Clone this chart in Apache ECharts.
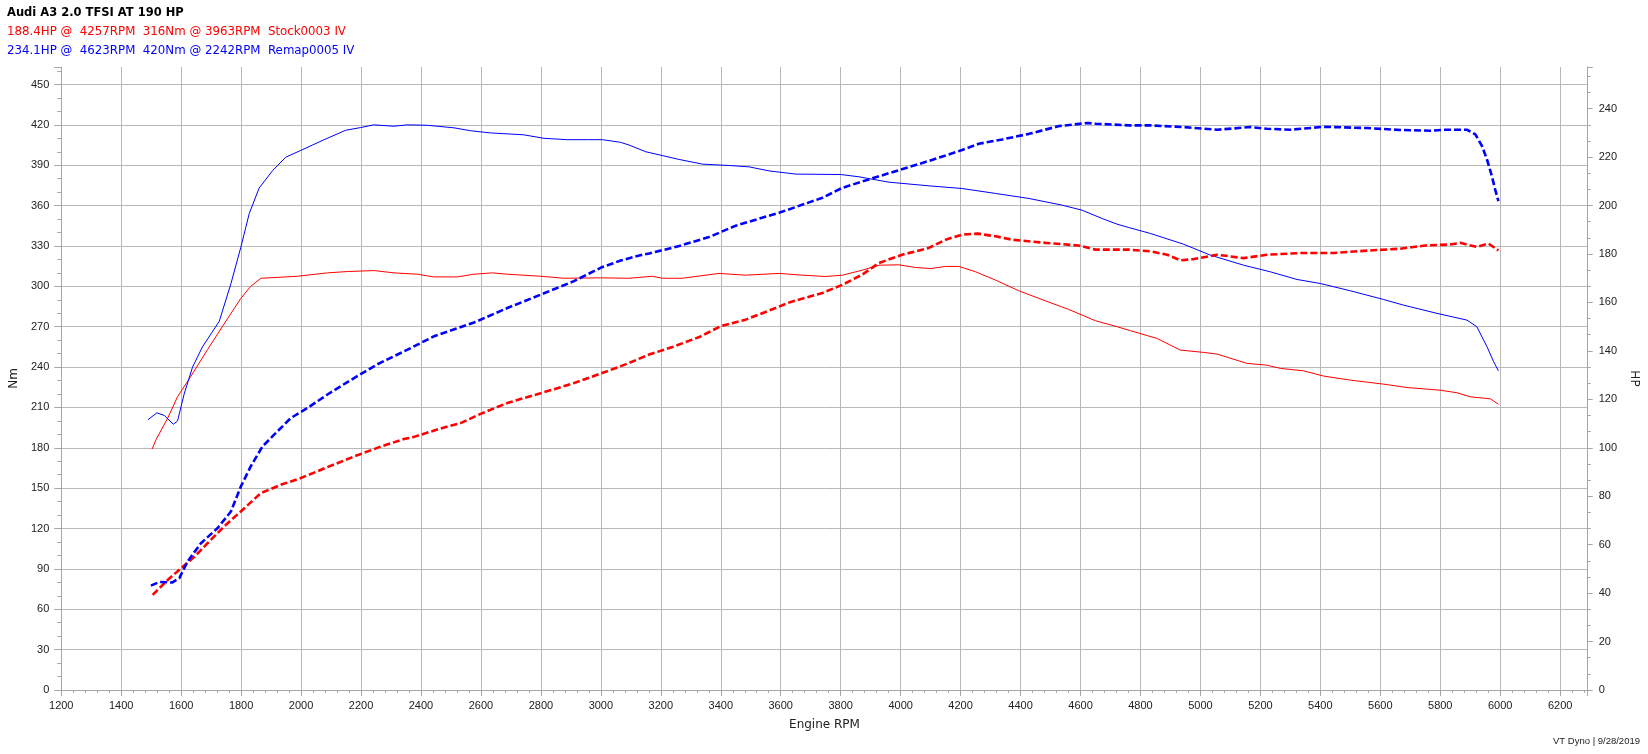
<!DOCTYPE html>
<html><head><meta charset="utf-8">
<script src="https://cdn.jsdelivr.net/npm/echarts@6/dist/echarts.min.js"></script>
<style>html,body{margin:0;padding:0;background:#fff}#c{width:1648px;height:754px}</style>
</head><body><div id="c"></div>
<script>
const titleText = 'Audi A3 2.0 TFSI AT 190 HP';
const stockLabel = '188.4HP @  4257RPM  316Nm @ 3963RPM  Stock0003 IV';
const remapLabel = '234.1HP @  4623RPM  420Nm @ 2242RPM  Remap0005 IV';
const footerText = 'VT Dyno | 9/28/2019';
const xAxisName = 'Engine RPM';
const leftAxisName = 'Nm';
const rightAxisName = 'HP';

const stockTorqueRpm = [1503,1516,1555,1588,1632,1688,1743,1799,1832,1866,1910,1988,2088,2155,2244,2310,2388,2443,2521,2577,2638,2688,2799,2877,2999,3094,3172,3205,3272,3394,3483,3594,3672,3750,3806,3872,3928,3994,4050,4100,4150,4194,4250,4317,4394,4483,4561,4650,4722,4767,4856,4933,5011,5056,5156,5222,5267,5344,5411,5500,5611,5689,5800,5856,5900,5967,5994];
const stockTorqueNm = [179,186,202,218,233,253,272,291,300,306,306.5,307.5,310,311,311.7,310,309,307,307,309,310,309,307.5,306,306.3,306,307.5,306,306,309.6,308.3,309.6,308.3,307.3,308.3,312,315.7,316,314,313.2,314.8,314.8,310.8,304.6,296.7,289.2,282.8,274.4,270,267,261.2,252.6,250.9,249.6,242.7,241.4,239,237.2,233.3,230.3,227.3,224.8,222.8,220.9,217.9,216.4,212.4];

const stockPowerRpm = [1505,1555,1599,1644,1688,1743,1799,1866,1932,1999,2088,2177,2266,2343,2377,2466,2532,2599,2688,2799,2910,3021,3094,3161,3239,3328,3400,3483,3583,3628,3739,3806,3872,3928,4005,4094,4150,4205,4257,4317,4372,4483,4594,4650,4761,4833,4889,4933,4978,5056,5144,5222,5333,5444,5556,5667,5756,5833,5867,5922,5961,5994];
const stockPowerHp = [39.3,45.4,50.2,55,60.6,67.5,73.7,81.3,84.7,87.5,92,96.4,100.5,103.6,104.5,108,110.2,114,118.5,122.5,126.7,131.6,135,138.5,141.6,145.7,150.2,152.9,157.7,160,163.9,167.3,171.5,176.3,179.7,182.5,185.9,188,188.4,187.3,185.9,184.6,183.5,181.8,181.8,181.1,179.7,177.4,177.9,179.7,178.3,179.7,180.4,180.4,181.4,182.2,183.6,183.9,184.6,182.9,184.3,181.5];

const remapTorqueRpm = [1490,1519,1544,1574,1588,1610,1638,1671,1727,1766,1799,1827,1860,1905,1949,1999,2038,2077,2149,2199,2242,2310,2354,2421,2510,2566,2632,2743,2810,2888,2955,3005,3066,3094,3150,3261,3339,3428,3494,3561,3650,3800,3861,3961,4094,4205,4317,4428,4539,4605,4672,4722,4761,4833,4944,5033,5144,5233,5322,5400,5500,5611,5678,5789,5889,5922,5956,5978,5994];
const remapTorqueNm = [201,206,204,197.5,200,220,240,255,274,302,329,354,373,386,396,401,405,409,416,418,420,419,420,419.7,417.8,415.6,414,412.6,410,409,409,409,407,405,400,394.3,390.8,389.8,388.8,385.8,383.4,383.1,381.4,377.4,374.7,372.7,369,365.3,360.3,356.6,350.4,346.2,343.7,339.3,331.3,323.2,315.7,310.8,305.1,302.1,296.7,290.2,286,279.9,274.9,270,255.1,244,237.2];

const remapPowerRpm = [1499,1527,1571,1594,1621,1666,1721,1766,1799,1832,1871,1910,1966,2021,2088,2166,2255,2355,2443,2577,2688,2799,2910,2999,3066,3132,3161,3261,3361,3450,3594,3739,3805,3894,3994,4094,4205,4261,4339,4428,4528,4623,4650,4761,4833,4944,5056,5167,5222,5300,5411,5556,5667,5767,5811,5889,5917,5939,5956,5972,5983,5994];
const remapPowerHp = [43.1,44.6,44.4,46.2,53,60.6,66.8,73.7,84,92.3,100.5,105.4,112.3,116.4,122,128,134.5,140.5,146,151.7,157.7,163.2,168.8,174.3,177.3,179.5,180.2,183.3,187,191.7,197,203.2,207.3,210.8,214.6,218.4,222.9,225.5,227.3,229.6,232.8,234.1,233.8,233.1,233.1,232.4,231.3,232.4,231.7,231.3,232.5,232,231.2,230.9,231.3,231.3,229.4,224.6,219,212.2,206.7,201.8];

function pairs(xs, ys){ return xs.map((x,i)=>[x, ys[i]]); }
const plain = v => String(Math.round(v));

const RED = '#ff0000', BLUE = '#0000ff';
const GRID = '#b8b8b8', AXIS = '#a6a6a6', LABEL = '#222';
const tickFont = {fontFamily:'Liberation Sans', fontSize:11, color:LABEL, formatter:plain};

const chart = echarts.init(document.getElementById('c'), null, {renderer:'canvas'});
chart.setOption({
  animation:false,
  backgroundColor:'#ffffff',
  grid:{left:60, right:57, top:67, bottom:64, containLabel:false},
  xAxis:{
    type:'value', min:1200, max:6292, interval:200,
    name:xAxisName, nameLocation:'middle', nameGap:29,
    nameTextStyle:{fontFamily:'DejaVu Sans', fontSize:12, color:LABEL},
    axisLine:{show:true, lineStyle:{color:AXIS, width:1}},
    axisTick:{show:true, length:6, lineStyle:{color:AXIS}},
    minorTick:{show:true, splitNumber:5, length:3, lineStyle:{color:AXIS}},
    axisLabel:Object.assign({margin:10, showMaxLabel:false}, tickFont),
    splitLine:{show:true, lineStyle:{color:GRID, width:1}}
  },
  yAxis:[{
    type:'value', min:0, max:463, interval:30, position:'left',
    name:leftAxisName, nameLocation:'middle', nameGap:40, nameRotate:90,
    nameTextStyle:{fontFamily:'DejaVu Sans', fontSize:12, color:LABEL},
    axisLine:{show:true, lineStyle:{color:AXIS, width:1}},
    axisTick:{show:true, length:7, lineStyle:{color:AXIS}},
    minorTick:{show:true, splitNumber:3, length:4, lineStyle:{color:AXIS}},
    axisLabel:Object.assign({margin:12, showMaxLabel:false}, tickFont),
    splitLine:{show:true, showMaxLine:false, lineStyle:{color:GRID, width:1}}
  },{
    type:'value', min:0, max:257.2, interval:20, position:'right',
    name:rightAxisName, nameLocation:'middle', nameGap:33, nameRotate:-90,
    nameTextStyle:{fontFamily:'DejaVu Sans', fontSize:12, color:LABEL},
    axisLine:{show:true, lineStyle:{color:AXIS, width:1}},
    axisTick:{show:true, length:5, lineStyle:{color:AXIS}},
    minorTick:{show:true, splitNumber:3, length:3, lineStyle:{color:AXIS}},
    axisLabel:Object.assign({margin:11, showMaxLabel:false}, tickFont),
    splitLine:{show:false}
  }],
  series:[
    {name:'Stock torque', type:'line', yAxisIndex:0, showSymbol:false, symbol:'none',
     data:pairs(stockTorqueRpm, stockTorqueNm), lineStyle:{color:RED, width:1}, z:3},
    {name:'Remap torque', type:'line', yAxisIndex:0, showSymbol:false, symbol:'none',
     data:pairs(remapTorqueRpm, remapTorqueNm), lineStyle:{color:BLUE, width:1}, z:3},
    {name:'Stock power', type:'line', yAxisIndex:1, showSymbol:false, symbol:'none',
     data:pairs(stockPowerRpm, stockPowerHp), lineStyle:{color:RED, width:2.6, type:[7,3]}, z:4},
    {name:'Remap power', type:'line', yAxisIndex:1, showSymbol:false, symbol:'none',
     data:pairs(remapPowerRpm, remapPowerHp), lineStyle:{color:BLUE, width:2.6, type:[7,3]}, z:4}
  ],
  graphic:[
    {type:'text', left:7, top:7, style:{text:titleText, fontFamily:'DejaVu Sans', fontWeight:'bold', fontSize:11.5, fill:'#000'}},
    {type:'text', left:7, top:26, style:{text:stockLabel, fontFamily:'DejaVu Sans', fontSize:11.8, fill:RED}},
    {type:'text', left:7, top:45, style:{text:remapLabel, fontFamily:'DejaVu Sans', fontSize:11.8, fill:BLUE}},
    {type:'text', right:8, top:736, style:{text:footerText, fontFamily:'Liberation Sans', fontSize:9.5, fill:LABEL}}
  ]
});
</script>
</body></html>
